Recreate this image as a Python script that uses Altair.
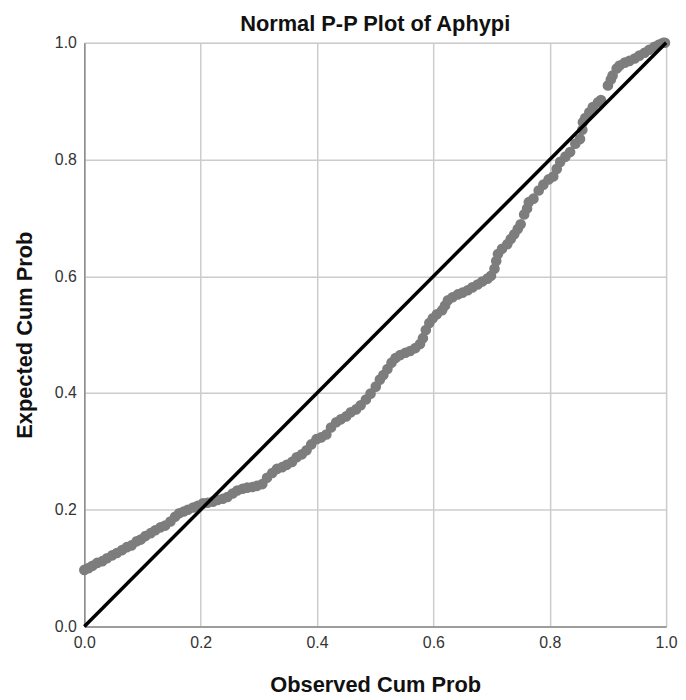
import altair as alt
import pandas as pd

# Observed cumulative probability (x) and expected cumulative probability (y)
obs_cum = [0.000, 0.007, 0.014, 0.022, 0.031, 0.039, 0.048, 0.056, 0.065, 0.073,
           0.081, 0.090, 0.097, 0.105, 0.114, 0.122, 0.131, 0.139, 0.148, 0.156,
           0.163, 0.171, 0.178, 0.187, 0.195, 0.204, 0.212, 0.221, 0.229, 0.238,
           0.246, 0.255, 0.263, 0.272, 0.280, 0.289, 0.297, 0.306, 0.314, 0.323,
           0.331, 0.340, 0.348, 0.357, 0.365, 0.374, 0.382, 0.390, 0.399, 0.407,
           0.416, 0.424, 0.433, 0.441, 0.450, 0.458, 0.467, 0.475, 0.484, 0.492,
           0.501, 0.508, 0.514, 0.521, 0.528, 0.535, 0.543, 0.552, 0.560, 0.569,
           0.577, 0.582, 0.587, 0.593, 0.599, 0.606, 0.615, 0.620, 0.625, 0.633,
           0.642, 0.650, 0.659, 0.667, 0.676, 0.684, 0.693, 0.699, 0.705, 0.708,
           0.711, 0.718, 0.727, 0.733, 0.739, 0.745, 0.750, 0.756, 0.761, 0.764,
           0.772, 0.781, 0.789, 0.798, 0.806, 0.812, 0.818, 0.827, 0.835, 0.844,
           0.852, 0.856, 0.857, 0.861, 0.868, 0.874, 0.883, 0.888, 0.900, 0.905,
           0.908, 0.915, 0.920, 0.929, 0.937, 0.946, 0.954, 0.963, 0.971, 0.980,
           0.988, 0.995, 0.998]
exp_cum = [0.097, 0.100, 0.104, 0.109, 0.112, 0.117, 0.122, 0.126, 0.131, 0.136,
           0.139, 0.146, 0.149, 0.155, 0.160, 0.165, 0.170, 0.173, 0.180, 0.188,
           0.194, 0.197, 0.200, 0.204, 0.207, 0.211, 0.212, 0.214, 0.217, 0.219,
           0.222, 0.228, 0.233, 0.236, 0.238, 0.239, 0.241, 0.244, 0.255, 0.263,
           0.270, 0.273, 0.277, 0.282, 0.290, 0.295, 0.302, 0.312, 0.321, 0.324,
           0.329, 0.341, 0.350, 0.355, 0.360, 0.367, 0.372, 0.379, 0.389, 0.399,
           0.411, 0.423, 0.431, 0.441, 0.452, 0.460, 0.465, 0.469, 0.472, 0.477,
           0.484, 0.494, 0.508, 0.520, 0.528, 0.535, 0.542, 0.550, 0.559, 0.564,
           0.569, 0.572, 0.576, 0.581, 0.586, 0.591, 0.596, 0.601, 0.613, 0.626,
           0.638, 0.647, 0.655, 0.664, 0.672, 0.681, 0.689, 0.706, 0.716, 0.727,
           0.733, 0.747, 0.757, 0.766, 0.771, 0.784, 0.796, 0.805, 0.813, 0.827,
           0.835, 0.851, 0.864, 0.871, 0.881, 0.890, 0.898, 0.902, 0.927, 0.937,
           0.944, 0.956, 0.961, 0.966, 0.969, 0.973, 0.978, 0.983, 0.988, 0.993,
           0.997, 1.000, 1.000]

ref_x = [0.0, 1.0]
ref_y = [0.0, 1.0]
tick_vals = [0.0, 0.2, 0.4, 0.6, 0.8, 1.0]

pts = pd.DataFrame({"obs": obs_cum, "exp": exp_cum})
ref = pd.DataFrame({"obs": ref_x, "exp": ref_y})

FONT = "Liberation Sans"
W = 587
H = 589

xscale = alt.Scale(domain=[0, 1], nice=False, zero=False)
yscale = alt.Scale(domain=[0, 1], nice=False, zero=False)

xaxis = alt.Axis(values=tick_vals, format=".1f", title="Observed Cum Prob",
                 ticks=False, labelPadding=8, labelFontSize=16, labelColor="#333333",
                 labelFont=FONT, titleFont=FONT, titleFontSize=22, titleFontWeight="bold",
                 titleColor="#111111", titleBaseline="alphabetic", titleX=W / 2, titleY=66,
                 grid=True, gridColor="#cccccc", gridWidth=1.5,
                 domainColor="#8a8a8a", domainWidth=1.5, labelFlush=False)
yaxis = alt.Axis(values=tick_vals, format=".1f", title="Expected Cum Prob",
                 ticks=False, labelPadding=8, labelFontSize=16, labelColor="#333333",
                 labelFont=FONT, titleFont=FONT, titleFontSize=22, titleFontWeight="bold",
                 titleColor="#111111", titleBaseline="alphabetic", titleX=-53, titleY=H / 2,
                 titleAngle=270,
                 grid=True, gridColor="#cccccc", gridWidth=1.5,
                 domainColor="#8a8a8a", domainWidth=1.5, labelFlush=False)

points = alt.Chart(pts).mark_circle(size=115, color="#7d7d7d", opacity=1).encode(
    x=alt.X("obs:Q", scale=xscale, axis=xaxis),
    y=alt.Y("exp:Q", scale=yscale, axis=yaxis),
)

line = alt.Chart(ref).mark_line(color="#000000", strokeWidth=3.5).encode(
    x=alt.X("obs:Q", scale=xscale),
    y=alt.Y("exp:Q", scale=yscale),
)

chart = alt.layer(points, line).properties(
    width=W,
    height=H,
    title=alt.TitleParams("Normal P-P Plot of Aphypi", font=FONT, fontSize=22,
                          fontWeight="bold", color="#111111", anchor="middle",
                          frame="group", baseline="alphabetic", offset=0, dy=18),
    autosize=alt.AutoSizeParams(type="none"),
    padding={"left": 77, "top": 32, "right": 12, "bottom": 70},
).configure_view(stroke=None).configure(background="white")

chart.save("out.html", embed_options={"renderer": "svg", "actions": False})
